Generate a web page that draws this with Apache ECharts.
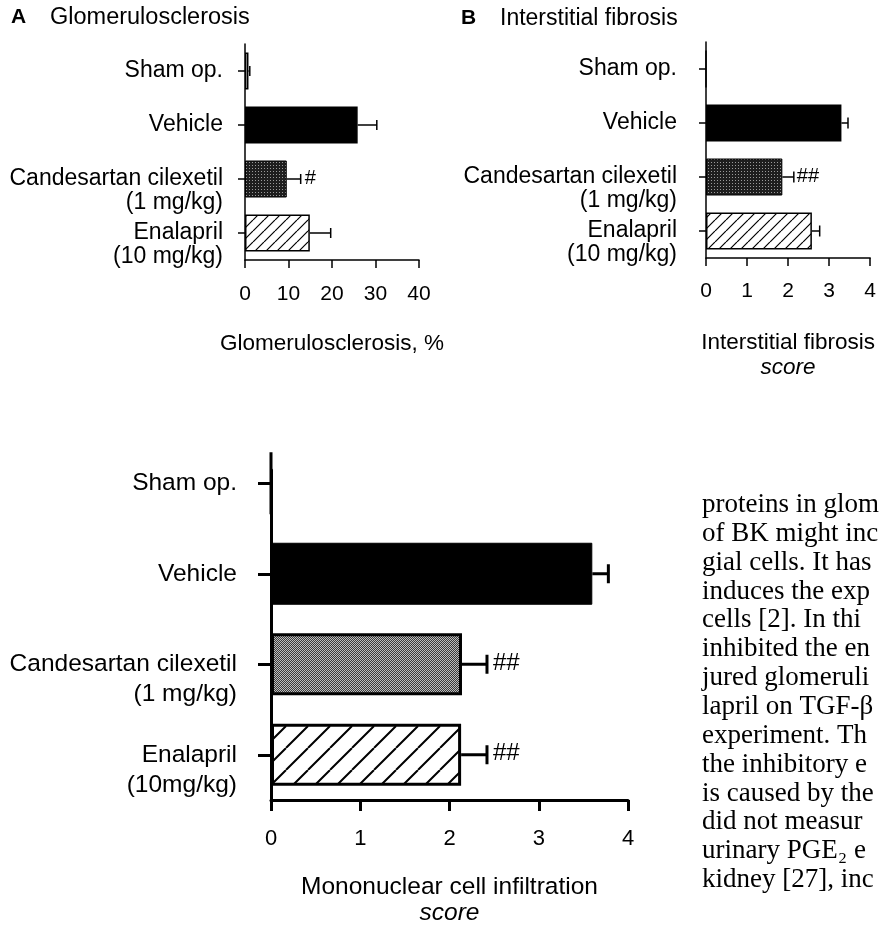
<!DOCTYPE html>
<html><head><meta charset="utf-8">
<script src="https://cdn.jsdelivr.net/npm/echarts@6/dist/echarts.min.js"></script>
<style>html,body{margin:0;padding:0;background:#fff;overflow:hidden}#c{width:879px;height:927px}</style>
</head><body><div id="c"></div><script>
// ---------- data ----------
const categoriesAB = ['Sham op.', 'Vehicle', 'Candesartan cilexetil\n(1 mg/kg)', 'Enalapril\n(10 mg/kg)'];
const categoriesC = ['Sham op.', 'Vehicle', 'Candesartan cilexetil\n(1 mg/kg)', 'Enalapril\n(10mg/kg)'];
const glomMean = [0.8, 25.9, 9.6, 14.9];
const glomSem = [0.3, 4.4, 3.2, 4.8];
const glomMarks = ['', '', '#', ''];
const fibMean = [0, 3.30, 1.86, 2.58];
const fibSem = [0, 0.16, 0.28, 0.19];
const fibMarks = ['', '', '##', ''];
const monoMean = [0, 3.60, 2.14, 2.13];
const monoSem = [0, 0.18, 0.28, 0.29];
const monoMarks = ['', '', '##', '##'];
const titleA = 'Glomerulosclerosis';
const titleB = 'Interstitial fibrosis';
const nameA = 'Glomerulosclerosis, %';
const nameB = 'Interstitial fibrosis';
const nameC = 'Mononuclear cell infiltration';
const nameUnit = 'score';
const paragraph = [
  'proteins in glom', 'of BK might inc', 'gial cells. It has', 'induces the exp',
  'cells [2]. In thi', 'inhibited the en', 'jured glomeruli', 'lapril on TGF-β',
  'experiment. Th', 'the inhibitory e', 'is caused by the', 'did not measur',
  'urinary PGE₂ e', 'kidney [27], inc'
];

// ---------- patterns ----------
function stipple(a, b, pattern) {
  const n = pattern.length;
  const c = document.createElement('canvas'); c.width = c.height = n;
  const g = c.getContext('2d');
  for (let y = 0; y < n; y++) for (let x = 0; x < n; x++) {
    g.fillStyle = pattern[y][x] ? b : a; g.fillRect(x, y, 1, 1);
  }
  return c;
}
function hatch(s, lw) {
  const c = document.createElement('canvas'); c.width = c.height = s;
  const g = c.getContext('2d');
  g.fillStyle = '#fff'; g.fillRect(0, 0, s, s);
  g.strokeStyle = '#000'; g.lineWidth = lw; g.beginPath();
  [-s, 0, s].forEach(o => { g.moveTo(o, s); g.lineTo(o + s, 0); });
  g.stroke();
  return c;
}
const darkDots = stipple('#1e1e1e', '#9a9a9a', [[1,0,0],[0,0,0],[0,0,0]]);
const midDots = stipple('#3a3a3a', '#bdbdbd', [[1,0],[0,1]]);
const hatchSmall = hatch(11, 1.2);
const hatchBig = hatch(22, 2);

function fillsSmall() {
  return [
    { color: '#fff', borderColor: '#000', borderWidth: 1.5 },
    { color: '#000', borderColor: '#000', borderWidth: 1.5 },
    { color: { image: darkDots, repeat: 'repeat' }, borderColor: '#000', borderWidth: 1 },
    { color: { image: hatchSmall, repeat: 'repeat' }, borderColor: '#000', borderWidth: 1.5 }
  ];
}
function fillsBig() {
  return [
    { color: '#fff', borderColor: '#000', borderWidth: 3 },
    { color: '#000', borderColor: '#000', borderWidth: 1 },
    { color: { image: midDots, repeat: 'repeat' }, borderColor: '#000', borderWidth: 3 },
    { color: { image: hatchBig, repeat: 'repeat' }, borderColor: '#000', borderWidth: 3 }
  ];
}
function barData(means, fills) { return means.map((v, i) => ({ value: v, itemStyle: fills[i] })); }
function errData(means, sems) { return means.map((m, i) => [m, i, sems[i]]); }
function errRender(marks, capH, lw, fontSize, gap) {
  return function (params, api) {
    const m = api.value(0), i = api.value(1), s = api.value(2);
    const p0 = api.coord([m, i]), p1 = api.coord([m + s, i]);
    const ch = [];
    if (s > 0) {
      ch.push({ type: 'line', shape: { x1: p0[0], y1: p0[1], x2: p1[0], y2: p1[1] }, style: { stroke: '#000', lineWidth: lw } });
      ch.push({ type: 'line', shape: { x1: p1[0], y1: p1[1] - capH / 2, x2: p1[0], y2: p1[1] + capH / 2 }, style: { stroke: '#000', lineWidth: lw } });
    }
    const mk = marks[params.dataIndex];
    if (mk) ch.push({ type: 'text', x: p1[0] + gap, y: p1[1] - 1, style: { text: mk, fontSize: fontSize, fontFamily: 'Liberation Sans', fill: '#000', align: 'left', verticalAlign: 'middle' } });
    return { type: 'group', children: ch };
  };
}
const labelFmt = v => v.indexOf('\n') >= 0 ? '\n' + v : v;
const FONT = 'Liberation Sans';

function yAxis(gridIndex, cats, fs, lh, margin, tickLen, lw, showLine) {
  return {
    type: 'category', gridIndex, data: cats, inverse: true,
    axisLine: { show: showLine, lineStyle: { color: '#000', width: lw } },
    axisTick: { show: true, alignWithLabel: true, interval: 0, length: tickLen, lineStyle: { color: '#000', width: lw } },
    axisLabel: { interval: 0, color: '#000', fontSize: fs, fontFamily: FONT, lineHeight: lh, margin, formatter: labelFmt, align: 'right' },
    splitLine: { show: false }
  };
}
function xAxis(gridIndex, max, interval, fs, margin, tickLen, lw, name, italicUnit, nameGap, nameFs, nameLh) {
  return {
    type: 'value', gridIndex, min: 0, max, interval,
    axisLine: { show: true, lineStyle: { color: '#000', width: lw } },
    axisTick: { show: true, length: tickLen, lineStyle: { color: '#000', width: lw } },
    axisLabel: { color: '#000', fontSize: fs, fontFamily: FONT, margin },
    splitLine: { show: false },
    name: italicUnit ? '{a|' + name + '}\n{b|' + italicUnit + '}' : name,
    nameLocation: 'middle', nameGap,
    nameTextStyle: {
      color: '#000', fontSize: nameFs, fontFamily: FONT, lineHeight: nameLh,
      rich: { a: { fontSize: nameFs, fontFamily: FONT, color: '#000', lineHeight: nameLh },
              b: { fontSize: nameFs, fontFamily: FONT, color: '#000', fontStyle: 'italic', lineHeight: nameLh } }
    }
  };
}

const chart = echarts.init(document.getElementById('c'), null, { renderer: 'canvas' });
const option = {
  backgroundColor: '#fff',
  animation: false,
  title: [
    { text: 'A', left: 11, top: 7, padding: 0, textStyle: { fontSize: 21, fontWeight: 'bold', fontFamily: FONT, color: '#000' } },
    { text: titleA, left: 50, top: 6, padding: 0, textStyle: { fontSize: 23.5, fontWeight: 'normal', fontFamily: FONT, color: '#000' } },
    { text: 'B', left: 461, top: 8, padding: 0, textStyle: { fontSize: 21, fontWeight: 'bold', fontFamily: FONT, color: '#000' } },
    { text: titleB, left: 500, top: 7, padding: 0, textStyle: { fontSize: 23, fontWeight: 'normal', fontFamily: FONT, color: '#000' } }
  ],
  grid: [
    { left: 245, top: 44, width: 174, height: 216, containLabel: false },
    { left: 706, top: 42, width: 171, height: 216, containLabel: false },
    { left: 271, top: 438, width: 357, height: 363, containLabel: false },
    // frame-only grid: carries the visible vertical axis line of panel C
    { left: 271, top: 470, width: 357, height: 331, containLabel: false }
  ],
  xAxis: [
    xAxis(0, 40, 10, 21, 24, 8, 1.5, nameA, null, 71, 22.5, 25),
    xAxis(1, 4, 1, 21, 23, 8, 1.5, nameB, nameUnit, 72, 22.5, 25),
    xAxis(2, 4, 1, 22, 28, 11, 3, nameC, nameUnit, 74, 24.5, 26),
    { type: 'value', gridIndex: 3, min: 0, max: 4, show: false }
  ],
  yAxis: [
    yAxis(0, categoriesAB, 23, 24, 22, 7, 1.5, true),
    yAxis(1, categoriesAB, 23, 24, 29, 7, 1.5, true),
    yAxis(2, categoriesC, 24.5, 30, 34, 13, 3, false),
    { type: 'value', gridIndex: 3, min: 0, max: 1, axisLine: { show: true, lineStyle: { color: '#000', width: 3 } },
      axisTick: { show: false }, axisLabel: { show: false }, splitLine: { show: false } }
  ],
  series: [
    { type: 'bar', xAxisIndex: 0, yAxisIndex: 0, barWidth: 37, data: barData(glomMean, fillsSmall()) },
    { type: 'custom', xAxisIndex: 0, yAxisIndex: 0, renderItem: errRender(glomMarks, 10, 1.5, 20, 4), data: errData(glomMean, glomSem), z: 5 },
    { type: 'bar', xAxisIndex: 1, yAxisIndex: 1, barWidth: 37, data: barData(fibMean, fillsSmall()) },
    { type: 'custom', xAxisIndex: 1, yAxisIndex: 1, renderItem: errRender(fibMarks, 11, 1.5, 20, 3), data: errData(fibMean, fibSem), z: 5 },
    { type: 'bar', xAxisIndex: 2, yAxisIndex: 2, barWidth: 62, data: barData(monoMean, fillsBig()) },
    { type: 'custom', xAxisIndex: 2, yAxisIndex: 2, renderItem: errRender(monoMarks, 19, 3, 24, 6), data: errData(monoMean, monoSem), z: 5 }
  ],
  graphic: paragraph.map((t, i) => ({
    type: 'text', x: 702, y: 505 + i * 28.85,
    style: { text: t, fontSize: 27, fontFamily: 'Liberation Serif', fill: '#000', verticalAlign: 'middle', align: 'left' }
  }))
};
chart.setOption(option);
</script></body></html>
